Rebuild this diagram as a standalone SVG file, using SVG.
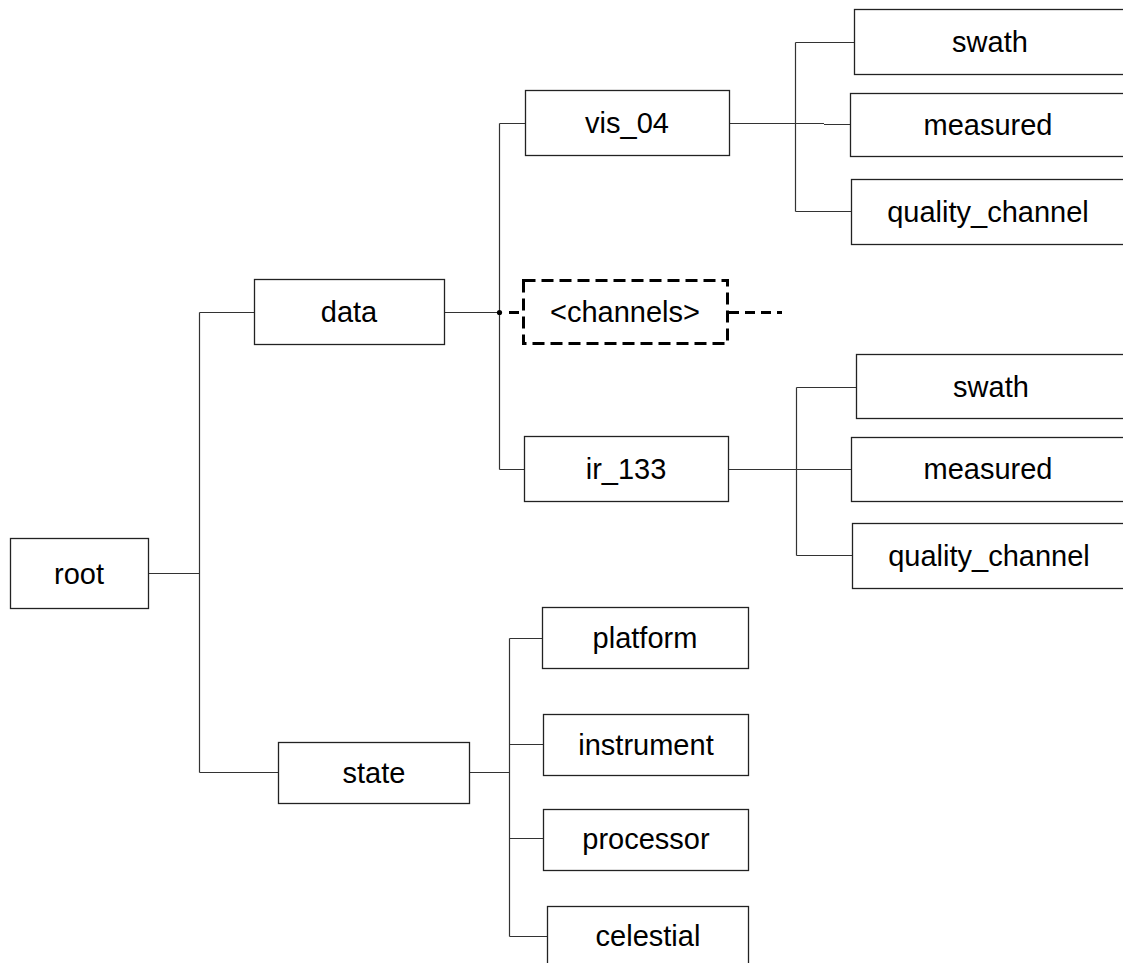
<svg xmlns="http://www.w3.org/2000/svg" width="1123" height="963" viewBox="0 0 1123 963">
<style>
.box{fill:#fff;stroke:#222;stroke-width:1.3}
.dash{fill:#fff;stroke:#000;stroke-width:3;stroke-dasharray:12 6}
.lbl{font-family:"Liberation Sans",Arial,sans-serif;font-size:29px;fill:#000;text-anchor:middle}
.c{fill:none;stroke:#333;stroke-width:1.2}
.cd{fill:none;stroke:#000;stroke-width:3;stroke-dasharray:10 6}
</style>
<rect width="1123" height="963" fill="#fff"/>
<g id="connectors">
<path class="c" d="M148 573.5H199.5M199.5 312.5V772.5M199.5 312.5H254M199.5 772.5H278"/>
<path class="c" d="M444 312.5H499.5M499.5 123.5V469.5M499.5 123.5H525M499.5 469.5H524"/>
<circle cx="499.5" cy="312.5" r="2.6" fill="#000"/>
<path class="cd" d="M509 312.5H523"/>
<path class="cd" d="M729 312.5H782"/>
<path class="c" d="M729 123.5H824M824 124.5H850M795.5 42.5V211.5M795.5 42.5H854M795.5 211.5H851"/>
<path class="c" d="M728 469.5H851M796.5 387.5V555.5M796.5 387.5H856M796.5 555.5H852"/>
<path class="c" d="M469 772.5H509.5M509.5 638.5V936.5M509.5 638.5H542M509.5 744.5H543M509.5 838.5H543M509.5 936.5H547"/>
</g>
<g id="root"><rect class="box" x="10.5" y="538.5" width="138" height="70"/><text class="lbl" x="79" y="584">root</text></g>
<g id="data"><rect class="box" x="254.5" y="279.5" width="190" height="65"/><text class="lbl" x="349" y="322">data</text></g>
<g id="state"><rect class="box" x="278.5" y="742.5" width="191" height="61"/><text class="lbl" x="374" y="783">state</text></g>
<g id="channels"><rect class="dash" x="523.5" y="280.5" width="204" height="63"/><text class="lbl" x="625" y="322">&lt;channels&gt;</text></g>
<g id="vis_04"><rect class="box" x="525.5" y="90.5" width="204" height="65"/><text class="lbl" x="627" y="133">vis_04</text></g>
<g id="ir_133"><rect class="box" x="524.5" y="436.5" width="204" height="65"/><text class="lbl" x="626" y="479">ir_133</text></g>
<g id="swath1"><rect class="box" x="854.5" y="9.5" width="274" height="65"/><text class="lbl" x="990" y="52">swath</text></g>
<g id="measured1"><rect class="box" x="850.5" y="93.5" width="278" height="63"/><text class="lbl" x="988" y="135">measured</text></g>
<g id="quality_channel1"><rect class="box" x="851.5" y="179.5" width="277" height="65"/><text class="lbl" x="988" y="222">quality_channel</text></g>
<g id="swath2"><rect class="box" x="856.5" y="354.5" width="272" height="64"/><text class="lbl" x="991" y="397">swath</text></g>
<g id="measured2"><rect class="box" x="851.5" y="437.5" width="277" height="64"/><text class="lbl" x="988" y="479">measured</text></g>
<g id="quality_channel2"><rect class="box" x="852.5" y="523.5" width="276" height="65"/><text class="lbl" x="989" y="566">quality_channel</text></g>
<g id="platform"><rect class="box" x="542.5" y="607.5" width="206" height="61"/><text class="lbl" x="645" y="648">platform</text></g>
<g id="instrument"><rect class="box" x="543.5" y="714.5" width="205" height="61"/><text class="lbl" x="646" y="755">instrument</text></g>
<g id="processor"><rect class="box" x="543.5" y="809.5" width="205" height="61"/><text class="lbl" x="646" y="849">processor</text></g>
<g id="celestial"><rect class="box" x="547.5" y="906.5" width="201" height="70"/><text class="lbl" x="648" y="946">celestial</text></g>
</svg>
